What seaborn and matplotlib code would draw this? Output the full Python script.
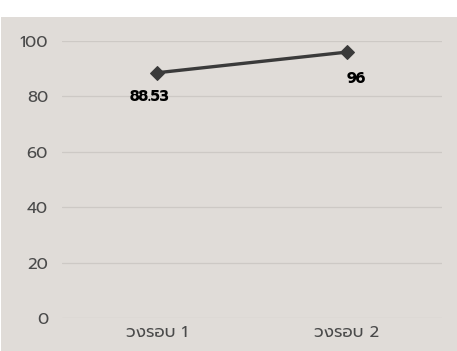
import matplotlib
matplotlib.use("Agg")
import matplotlib.pyplot as plt
import seaborn as sns
import pandas as pd
from matplotlib.patches import Rectangle

categories = ["วงรอบ 1", "วงรอบ 2"]
values = [88.53, 96]
value_labels = ["88.53", "96"]
yticks = [0, 20, 40, 60, 80, 100]

sns.set_theme(style="white")
plt.rcParams["font.family"] = ["Prompt", "DejaVu Sans"]

fig = plt.figure(figsize=(4.57, 3.51), dpi=100)
fig.patch.set_facecolor("white")
fig.add_artist(Rectangle((1/457, 0), 456/457, 334/351, transform=fig.transFigure,
                         facecolor="#e0dcd8", edgecolor="none", zorder=0))
ax = fig.add_axes([62/457, 33/351, 380/457, 277/351])
ax.set_facecolor("none")

df = pd.DataFrame({"cat": categories, "val": values})
sns.lineplot(data=df, x="cat", y="val", ax=ax, color="#3a3a3a", linewidth=2.4,
             marker="D", markersize=7, markeredgecolor="#3a3a3a", sort=False)

ax.set_xlim(-0.5, 1.5)
ax.set_ylim(0, 100)
ax.set_yticks(yticks)
ax.set_yticklabels([str(t) for t in yticks])
ax.grid(axis="y", color="#cdc9c5", linewidth=0.9)
ax.set_axisbelow(True)
for s in ax.spines.values():
    s.set_visible(False)
ax.tick_params(axis="both", length=0, labelsize=12, labelcolor="#4a4a4a")
ax.tick_params(axis="x", pad=5)
ax.tick_params(axis="y", pad=10)
ax.set_xlabel("")
ax.set_ylabel("")

offsets = [(-8, -24), (9, -27)]
for i, (v, lab) in enumerate(zip(values, value_labels)):
    ax.annotate(lab, (i, v), xytext=offsets[i], textcoords="offset pixels",
                ha="center", va="center", fontsize=11, fontweight="bold", color="black")

fig.savefig("out.png", dpi=100)
